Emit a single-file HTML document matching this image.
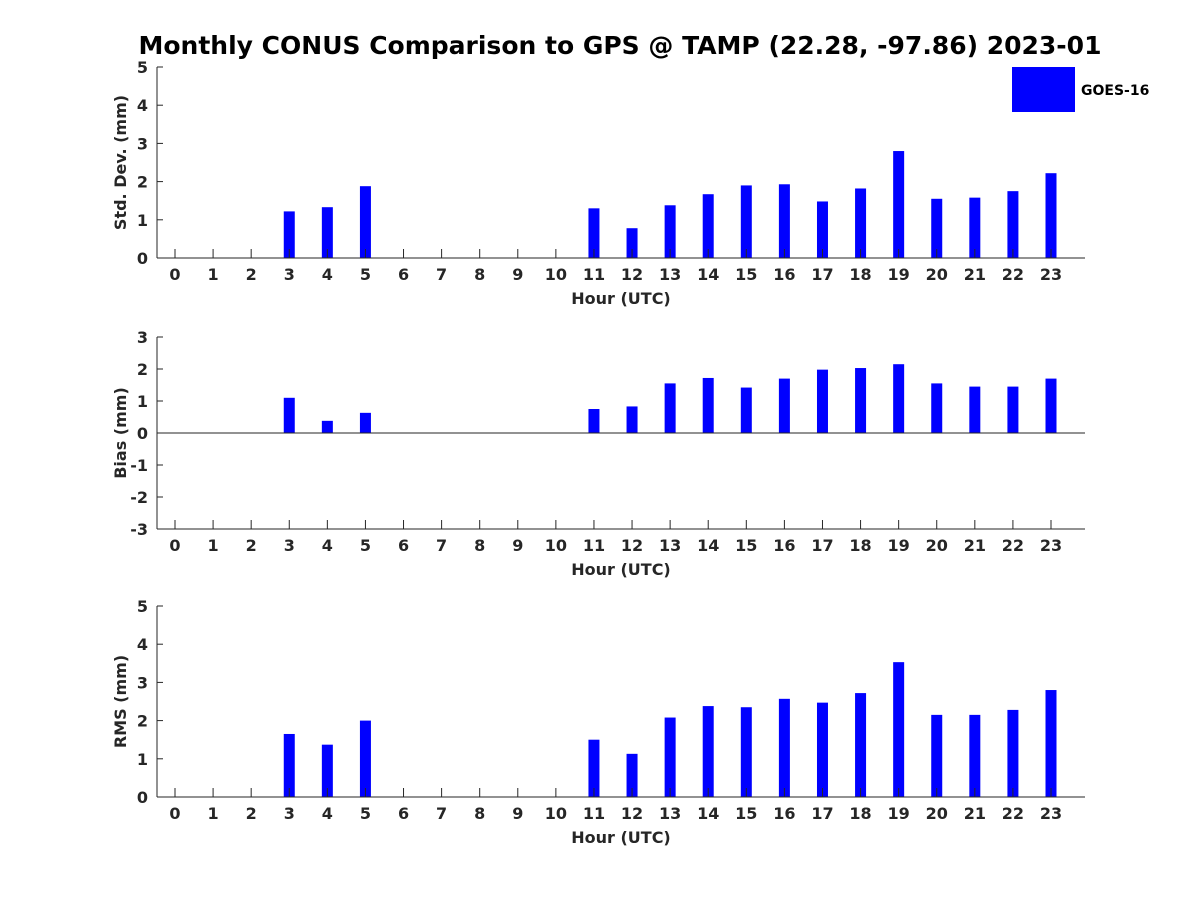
<!DOCTYPE html>
<html><head><meta charset="utf-8"><style>
body{margin:0;background:#fff}
svg{display:block;font-family:"DejaVu Sans","Liberation Sans",sans-serif;font-weight:bold;fill:#262626}
</style></head><body>
<svg id="chart" width="1200" height="900" viewBox="0 0 1200 900" xmlns="http://www.w3.org/2000/svg">
<rect width="1200" height="900" fill="#fff"/>
<text x="620" y="54" text-anchor="middle" font-size="25" fill="#000">Monthly CONUS Comparison to GPS @ TAMP (22.28, -97.86) 2023-01</text>
<g>
<rect x="1012" y="67" width="63" height="45" fill="#0000ff"/>
<text x="1081" y="95" font-size="14" fill="#000">GOES-16</text>
</g>
</svg>
<script>
const hours = [0,1,2,3,4,5,6,7,8,9,10,11,12,13,14,15,16,17,18,19,20,21,22,23];
const stdVals = [null,null,null,1.22,1.33,1.88,null,null,null,null,null,1.3,0.78,1.38,1.67,1.9,1.93,1.48,1.82,2.8,1.55,1.58,1.75,2.22];
const biasVals = [null,null,null,1.1,0.38,0.63,null,null,null,null,null,0.75,0.83,1.55,1.72,1.42,1.7,1.98,2.03,2.15,1.55,1.45,1.45,1.7];
const rmsVals = [null,null,null,1.65,1.37,2.0,null,null,null,null,null,1.5,1.13,2.08,2.38,2.35,2.57,2.47,2.72,3.53,2.15,2.15,2.28,2.8];
const stdTicks = [0,1,2,3,4,5];
const biasTicks = [-3,-2,-1,0,1,2,3];
const rmsTicks = [0,1,2,3,4,5];

const svg = document.getElementById('chart');
const NS = 'http://www.w3.org/2000/svg';
function mk(tag, attrs, parent){
  const e = document.createElementNS(NS, tag);
  for (const k in attrs) e.setAttribute(k, attrs[k]);
  (parent||svg).appendChild(e);
  return e;
}
const xL = 157, xR = 1085;
function xScale(h){ return 175 + h * (1051-175)/23; }

function panel(name, vals, ticks, top, bottom, ylabel){
  const g = mk('g', {});
  
  
  const ymin = ticks[0], ymax = ticks[ticks.length-1];
  const y = v => bottom - (v - ymin) * (bottom - top) / (ymax - ymin);
  const y0 = y(Math.max(0, ymin));
  vals.forEach((v, i) => {
    if (v === null) return;
    const yt = y(v), yb = y(0);
    const r = mk('rect', {x: xScale(hours[i]) - 5.5, y: Math.min(yt, yb), width: 11, height: Math.abs(yb - yt), fill: '#0000ff'}, g);
    
    
  });
  hours.forEach(h => {
    const x = xScale(h);
    mk('line', {x1: x, x2: x, y1: bottom, y2: bottom - 9, stroke: '#262626', 'stroke-width': 1}, g);
    const t = mk('text', {x: x, y: bottom + 22, 'text-anchor': 'middle', 'font-size': 16}, g);
    t.textContent = h;
    
    
  });
  ticks.forEach(v => {
    const yy = y(v);
    mk('line', {x1: xL, x2: xL + 6, y1: yy, y2: yy, stroke: '#262626', 'stroke-width': 1}, g);
    const t = mk('text', {x: xL - 9, y: yy + 6, 'text-anchor': 'end', 'font-size': 16}, g);
    t.textContent = v;
    
    
  });
  mk('line', {x1: xL, x2: xL, y1: top, y2: bottom, stroke: '#262626', 'stroke-width': 1}, g);
  mk('line', {x1: xL, x2: xR, y1: y0, y2: y0, stroke: '#262626', 'stroke-width': 1}, g);
  if (ymin < 0) mk('line', {x1: xL, x2: xR, y1: bottom, y2: bottom, stroke: '#262626', 'stroke-width': 1}, g);
  const xt = mk('text', {x: 621, y: bottom + 46, 'text-anchor': 'middle', 'font-size': 16}, g);
  xt.textContent = 'Hour (UTC)';
  
  
  const cy = (top + bottom) / 2;
  const yt = mk('text', {x: 0, y: 0, 'text-anchor': 'middle', 'font-size': 16, transform: 'translate(126,' + cy + ') rotate(-90)'}, g);
  yt.textContent = ylabel;
  
  
}
panel('std-dev', stdVals, stdTicks, 67, 258, 'Std. Dev. (mm)');
panel('bias', biasVals, biasTicks, 337, 529, 'Bias (mm)');
panel('rms', rmsVals, rmsTicks, 606, 797, 'RMS (mm)');
</script>
</body></html>
